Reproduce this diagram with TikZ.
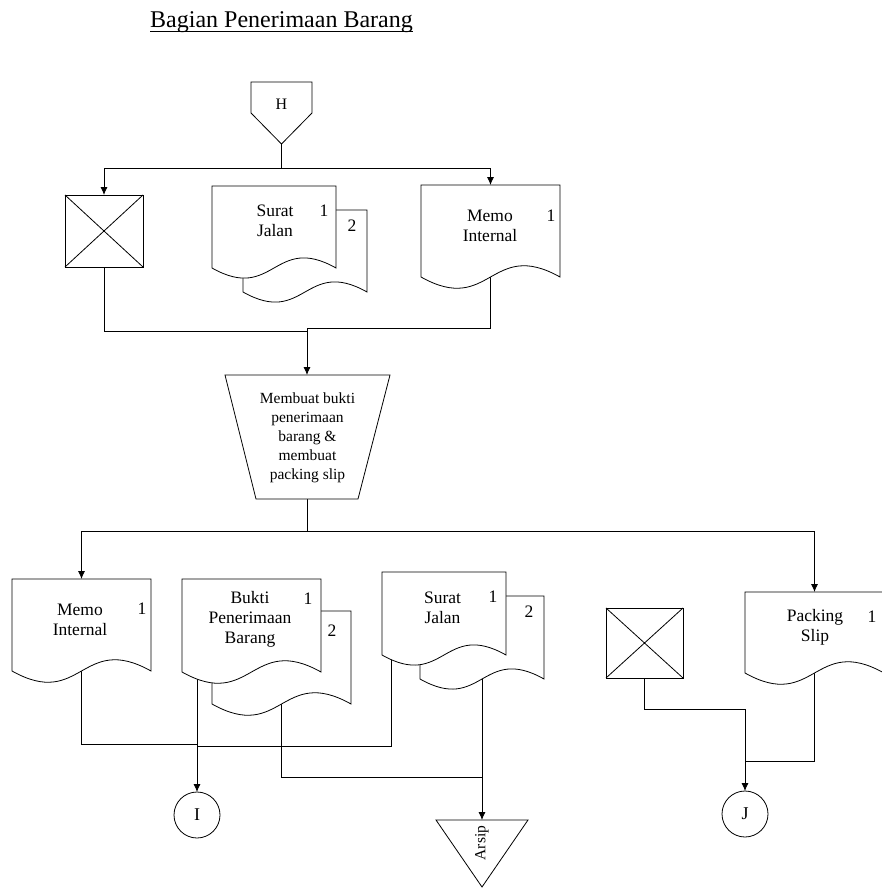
\documentclass[tikz,border=0pt]{standalone}
\usepackage{fontspec}
\setmainfont{Liberation Serif}
\usetikzlibrary{arrows.meta,calc}
\pgfdeclarelayer{wires}
\pgfsetlayers{wires,main}

\tikzset{
  flow/.style={draw=black, line width=0.8pt},
  wire/.style={draw=black, line width=0.8pt},
  feed/.style={wire, -{Latex[length=8pt,width=7pt]}},
  docframe/.style={inner sep=0pt, outer sep=0pt},
  docfont/.style={font=\fontsize{17.5}{20}\selectfont, align=center, inner sep=0pt},
  opfont/.style={font=\fontsize{15.5}{19}\selectfont, align=center, inner sep=0pt},
  xbox/.style={draw=black, fill=white, line width=0.8pt, inner sep=0pt, outer sep=0pt},
  conn/.style={circle, draw=black, fill=white, line width=0.8pt, minimum size=46pt,
               inner sep=0pt, outer sep=0pt, font=\fontsize{18}{20}\selectfont},
}

% document symbol: rectangle with a wavy bottom edge, drawn on a named frame node
\newcommand{\flowdoc}[2]{%
  \draw[flow, fill=white] (#1.south west) -- (#1.north west) -- (#1.north east)
    -- (#1.south east) .. controls ($(#1.south)+(0,-#2)$) and ($(#1.south)+(0,#2)$)
    .. (#1.south west) -- cycle;}

\begin{document}
\begin{tikzpicture}[x=1pt,y=-1pt]
\useasboundingbox (0,0) rectangle (882,888);
\begin{pgfonlayer}{wires}
  \fill[white] (0,0) rectangle (882,888);
\end{pgfonlayer}

% heading
\node[anchor=base, inner sep=0pt, font=\fontsize{24}{28}\selectfont] (title) at (281.5,28) {Bagian Penerimaan Barang};
\draw[line width=0.8pt] ($(title.base west)+(0,3)$) -- ($(title.base east)+(0,3)$);

% off-page connector H
\draw[flow, fill=white] (251,82) -- (312,82) -- (312,113) -- (281.5,144) -- (251,113) -- cycle;
\node[inner sep=0pt, font=\fontsize{16}{18}\selectfont] (Hlbl) at (281.5,104.5) {H};
\coordinate (Htip) at (281.5,144);

% incoming: crossed box
\node[xbox, minimum width=78pt, minimum height=72pt] (xa) at (104,231) {};
\draw[flow] (xa.north west) -- (xa.south east) (xa.north east) -- (xa.south west);

% incoming: Surat Jalan (2 copies)
\node[docframe, minimum width=124pt, minimum height=82pt] (sjA2) at (305,251) {};
\flowdoc{sjA2}{35}
\node[docframe, minimum width=124pt, minimum height=82pt] (sjA1) at (274,227) {};
\flowdoc{sjA1}{35}
\node[docfont] (sjA1t) at (275,221) {Surat\\Jalan};
\node[docfont] (sjA1n) at (324,211) {1};
\node[docfont] (sjA2n) at (352,226) {2};

% incoming: Memo Internal
\node[docframe, minimum width=139pt, minimum height=92pt] (memoA) at (490.5,231) {};
\flowdoc{memoA}{39}
\node[docfont] (memoAt) at (490,225.5) {Memo\\Internal};
\node[docfont] (memoAn) at (551,216) {1};

% manual operation
\draw[flow, fill=white] (225,375) -- (390,375) -- (358,499) -- (256,499) -- cycle;
\coordinate (trapN) at (307,375);
\coordinate (trapS) at (307,499);
\node[opfont] (trapt) at (307.5,437.5) {Membuat bukti\\penerimaan\\barang \&\\membuat\\packing slip};

% outgoing: Memo Internal
\node[docframe, minimum width=139pt, minimum height=92pt] (memoB) at (81.5,625) {};
\flowdoc{memoB}{39}
\node[docfont] (memoBt) at (80,619.5) {Memo\\Internal};
\node[docfont] (memoBn) at (142,609) {1};

% outgoing: Bukti Penerimaan Barang (2 copies)
\node[docframe, minimum width=139pt, minimum height=93pt] (bkB2) at (281.5,657.5) {};
\flowdoc{bkB2}{39}
\node[docframe, minimum width=139pt, minimum height=93pt] (bkB1) at (251.5,625.5) {};
\flowdoc{bkB1}{39}
\node[docfont] (bkB1t) at (250,619) {Bukti\\Penerimaan\\Barang};
\node[docfont] (bkB1n) at (308,599) {1};
\node[docfont] (bkB2n) at (332,631) {2};

% outgoing: Surat Jalan (2 copies)
\node[docframe, minimum width=124pt, minimum height=83pt] (sjB2) at (482,637.5) {};
\flowdoc{sjB2}{35}
\node[docframe, minimum width=124pt, minimum height=83pt] (sjB1) at (444,613.5) {};
\flowdoc{sjB1}{35}
\node[docfont] (sjB1t) at (442.5,607.5) {Surat\\Jalan};
\node[docfont] (sjB1n) at (493,597) {1};
\node[docfont] (sjB2n) at (529,612) {2};

% outgoing: crossed box
\node[xbox, minimum width=77pt, minimum height=70pt] (xb) at (644.5,643) {};
\draw[flow] (xb.north west) -- (xb.south east) (xb.north east) -- (xb.south west);

% outgoing: Packing Slip
\node[docframe, minimum width=139pt, minimum height=81pt] (pack) at (814.5,632.5) {};
\flowdoc{pack}{39}
\node[docfont] (packt) at (815,627.5) {Packing\\Slip};
\node[docfont] (packn) at (872,617) {1};

% on-page connectors
\node[conn] (cI) at (197,815) {I};
\node[conn] (cJ) at (745,814) {J};

% archive
\draw[flow, fill=white] (436,820) -- (528,820) -- (482,887) -- cycle;
\coordinate (arsipN) at (482,820);
\node[inner sep=0pt, rotate=90, font=\fontsize{15.5}{18}\selectfont] (arsipt) at (482,843) {Arsip};

% flow lines (behind the symbols)
\coordinate (mergeL) at (307,331);
\coordinate (mergeR) at (307,328);
\coordinate (bkOut) at (197,640);
\coordinate (sjOut) at (391,620);
\coordinate (joinI) at (197,744);
\coordinate (joinI2) at (197,746);
\coordinate (joinA) at (482,777);
\coordinate (joinJ) at (745,761);
\begin{pgfonlayer}{wires}
  \draw[feed] (Htip) -- ++(0,24) -| (xa.north);
  \draw[feed] (Htip) -- ++(0,24) -| (memoA.north);
  \draw[wire] (xa.south) |- (mergeL);
  \draw[feed] (memoA.center) |- (mergeR) -- (trapN);
  \draw[feed] (trapS) -- ++(0,32) -| (memoB.north);
  \draw[feed] (trapS) -- ++(0,32) -| (pack.north);
  \draw[wire] (memoB.center) |- (joinI);
  \draw[wire] (sjOut) |- (joinI2);
  \draw[feed] (bkOut) -- (cI.north);
  \draw[wire] (bkB2.center) |- (joinA);
  \draw[feed] (sjB2.center) -- (arsipN);
  \draw[feed] (xb.south) -- ++(0,31) -| (cJ.north);
  \draw[wire] (pack.center) |- (joinJ);
\end{pgfonlayer}
\end{tikzpicture}
\end{document}
